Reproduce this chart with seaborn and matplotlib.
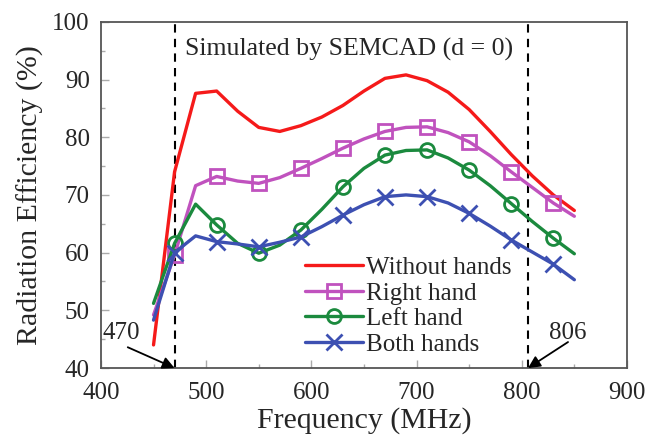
import numpy as np
import pandas as pd
import matplotlib
matplotlib.use("Agg")
import matplotlib.pyplot as plt
import seaborn as sns

freq = [450, 470, 490, 510, 530, 550, 570, 590, 610, 630, 650,
        670, 690, 710, 730, 750, 770, 790, 810, 830, 850]
without_hands = [44.0, 74.0, 87.6, 88.0, 84.5, 81.7, 81.0, 82.0, 83.5, 85.5, 88.0,
                 90.2, 90.8, 89.8, 87.8, 84.8, 81.0, 77.0, 73.3, 70.0, 67.3]
right_hand = [49.2, 59.6, 71.6, 73.2, 72.4, 72.0, 73.0, 74.6, 76.3, 78.1, 79.7,
              81.0, 81.7, 81.8, 80.8, 79.2, 76.8, 74.0, 71.3, 68.6, 66.3]
left_hand = [51.2, 61.6, 68.4, 64.8, 61.6, 59.9, 61.3, 63.9, 67.5, 71.4, 74.6,
             76.9, 77.7, 77.8, 76.4, 74.3, 71.6, 68.5, 65.4, 62.5, 59.8]
both_hands = [48.3, 60.0, 62.9, 61.9, 61.5, 61.0, 61.8, 62.7, 64.5, 66.5, 68.3,
              69.7, 70.0, 69.7, 68.6, 66.8, 64.6, 62.2, 60.1, 58.0, 55.3]
labels = ["Without hands", "Right hand", "Left hand", "Both hands"]
band_edges = [470, 806]
title_text = "Simulated by SEMCAD (d = 0)"

sns.set_style("ticks")
plt.rcParams["font.family"] = ["Liberation Serif", "DejaVu Serif"]

fig = plt.figure(figsize=(6.47, 4.45), dpi=100)
ax = fig.add_axes([0.156, 0.173, 0.813, 0.778])

series = [without_hands, right_hand, left_hand, both_hands]
colors = ["#f51a1a", "#c052be", "#1b8a3e", "#3d50b2"]
markers = [None, "s", "o", "x"]
msizes = [0, 10, 10, 12]

for vals, lab, col, mk, ms in zip(series, labels, colors, markers, msizes):
    kws = dict(color=col, linewidth=2.4, label=lab)
    if mk is not None:
        kws.update(marker=mk, markersize=ms, markevery=slice(1, None, 2),
                   markerfacecolor="none", markeredgecolor=col,
                   markeredgewidth=2.0)
    sns.lineplot(x=freq, y=vals, ax=ax, **kws)

for xv in band_edges:
    ax.axvline(xv, color="black", linestyle=(0, (4, 3)), linewidth=1.5, zorder=1)

ax.set_xlim(400, 900)
ax.set_ylim(40, 100)
ax.set_xticks(np.arange(400, 901, 100))
ax.set_yticks(np.arange(40, 101, 10))
ax.set_xticks(np.arange(450, 900, 100), minor=True)
ax.set_yticks(np.arange(45, 100, 10), minor=True)
ax.tick_params(axis="both", which="both", direction="in", labelsize=18,
               color="#aaaaaa")
ax.tick_params(which="major", length=6, width=1)
ax.tick_params(which="minor", length=3, width=1)
ax.tick_params(axis="x", pad=10)
ax.tick_params(axis="y", pad=8)
for sp in ax.spines.values():
    sp.set_color("#555555")
    sp.set_linewidth(1.3)

ax.set_xlabel("Frequency (MHz)", fontsize=21.5, labelpad=2)
ax.set_ylabel("Radiation Efficiency (%)", fontsize=21.5, labelpad=6)

ax.text(0.16, 0.92, title_text, transform=ax.transAxes, fontsize=18.6,
        ha="left", va="center")

arrow_kw = dict(arrowstyle="-|>", color="black", lw=1.3,
                mutation_scale=18, shrinkA=0, shrinkB=0)
ax.text(419, 46.0, "470", fontsize=18, ha="center", va="center")
ax.annotate("", xy=(470, 40), xytext=(425.5, 43.6), arrowprops=arrow_kw)
ax.text(844, 46.1, "806", fontsize=18, ha="center", va="center")
ax.annotate("", xy=(806, 40), xytext=(844, 44.5), arrowprops=arrow_kw)

leg = ax.legend(loc="upper left", bbox_to_anchor=(0.388, 0.322), frameon=False,
                fontsize=18, handlelength=2.3, handletextpad=0.15,
                labelspacing=0.12, borderaxespad=0, borderpad=0)

fig.savefig("out.png", dpi=100)
